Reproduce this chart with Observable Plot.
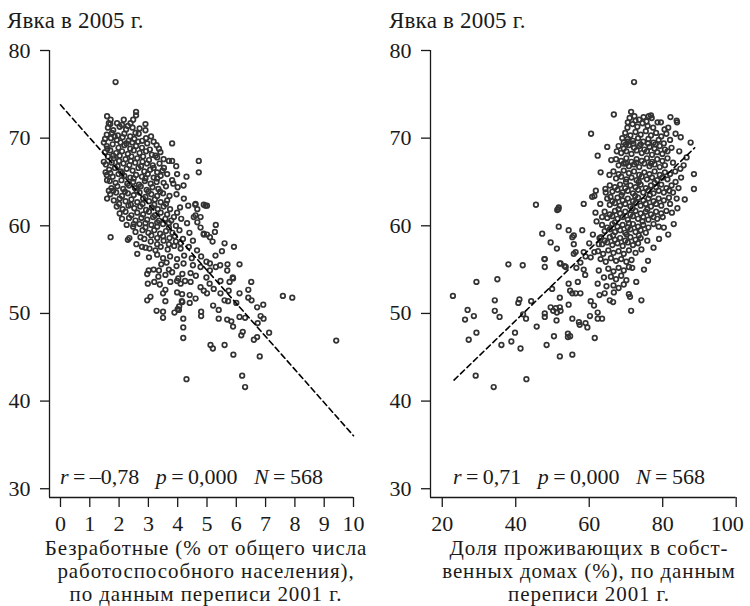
<!DOCTYPE html>
<html><head><meta charset="utf-8">
<script src="https://cdn.jsdelivr.net/npm/d3@7"></script>
<script src="https://cdn.jsdelivr.net/npm/@observablehq/plot@0.6"></script>
<style>
body{margin:0;background:#fff;}
#wrap{position:relative;width:750px;height:606px;font-family:"Liberation Serif","Times New Roman",serif;color:#1a1a1a;overflow:hidden;}
.pan{position:absolute;top:0;}
.ttl{position:absolute;font-size:23px;line-height:23px;letter-spacing:0.2px;white-space:nowrap;}
.xl{position:absolute;width:375px;text-align:center;font-size:21px;line-height:23px;letter-spacing:0.9px;white-space:nowrap;}
.st{position:absolute;font-size:22px;line-height:22px;white-space:nowrap;}
</style></head><body>
<div id="wrap"></div>
<script>
const yTitle = "Явка в 2005 г.";
const xTitleA = ["Безработные (% от общего числа", "работоспособного населения),", "по данным переписи 2001 г."];
const xTitleB = ["Доля проживающих в собст-", "венных домах (%), по данным", "переписи 2001 г."];
const yTicks = [30, 40, 50, 60, 70, 80];
const xTicksA = [0,1,2,3,4,5,6,7,8,9,10];
const xTicksB = [20,40,60,80,100];
const statsA = {r: "–0,78", p: "0,000", N: "568"};
const statsB = {r: "0,71", p: "0,000", N: "568"};
const fitA = [[0, 73.8], [10, 36.05]];
const fitB = [[23.2, 42.4], [88.7, 68.9]];

// Unemployment (%) vs turnout (%)
const pointsA = [
[1.88,76.4],[1.59,72.5],[1.71,72.1],[1.65,71.7],[1.93,71.7],[2.16,72.1],[2.39,71.7],[2.48,72.1],[2.58,73.0],[2.58,72.6],
[2.90,71.6],[2.90,70.9],[2.67,70.5],[2.79,69.7],[2.96,69.4],[3.09,70.2],[3.81,69.4],[3.36,68.8],[3.41,68.4],[3.24,68.0],
[3.70,67.4],[3.81,67.4],[4.72,67.4],[4.72,66.1],[3.18,66.6],[3.53,66.6],[3.64,65.9],[3.81,65.2],[4.00,64.4],[3.85,64.8],
[4.21,63.1],[4.61,62.5],[4.95,62.3],[4.67,61.9],[4.55,61.0],[4.67,60.4],[4.78,59.8],[4.89,59.0],[5.00,59.0],[3.98,61.5],
[3.87,61.0],[1.48,69.5],[1.48,67.3],[1.54,66.1],[1.59,65.2],[1.65,64.0],[1.59,63.1],[1.71,58.7],[2.73,58.7],[2.35,58.6],
[2.30,58.4],[2.59,57.9],[2.62,56.8],[2.90,57.5],[3.24,57.2],[3.50,56.3],[3.01,54.9],[3.18,55.0],[3.36,54.9],[2.96,54.5],
[3.70,55.0],[3.81,54.7],[2.98,53.4],[3.20,53.6],[3.39,53.3],[3.58,52.7],[3.50,52.3],[3.07,51.9],[2.96,51.5],[3.58,51.4],
[3.28,50.3],[3.50,50.2],[3.50,49.5],[3.89,50.1],[4.04,50.4],[4.19,49.4],[4.19,48.4],[4.19,47.2],[4.30,42.5],[3.98,53.7],
[3.75,53.6],[4.10,53.4],[4.25,53.7],[3.98,52.4],[4.15,52.2],[4.16,51.3],[4.05,50.8],
[7.59,52.0],[7.91,51.8],[9.41,46.9],[6.20,42.9],[6.30,41.6],[5.90,45.3],[6.80,45.1],[5.12,46.4],[5.20,46.0],[5.60,46.4],
[7.12,47.8],[6.60,47.0],[6.71,47.3],[6.17,47.5],[6.22,47.9],[6.92,51.0],[6.71,50.7],[6.83,49.7],[6.93,49.4],[6.73,48.9],
[6.51,53.6],[6.41,52.7],[6.41,51.8],[6.52,51.5],[6.11,52.3],[6.11,55.6],[5.92,57.6],[5.60,58.0],[5.51,57.1],[5.30,60.1],
[5.70,55.6],[5.89,54.0],[6.00,51.2],[6.11,49.6],[6.30,49.5],[5.83,49.1],[5.89,48.5],[5.69,49.3],[5.40,49.4],[5.40,50.4],
[5.21,50.9],[4.80,49.7],[4.80,50.2],[4.00,50.5],[4.14,51.4],[4.41,51.2],[4.61,51.7],[4.41,52.1],[4.89,52.6],[5.00,52.3],
[4.78,53.0],[5.46,52.3],[5.60,51.5],[5.72,51.4],[5.74,52.6],[5.46,53.7],[5.77,53.6],[5.88,54.1],[5.69,54.9],[5.23,52.8],
[5.09,53.4],[4.44,53.6],[4.16,54.5],[4.44,54.6],[4.78,55.3],[5.10,55.7],[5.10,54.9],[5.30,55.3],[5.45,55.5],[5.29,56.6],
[4.89,59.1],[5.19,58.2],[5.10,58.7],[5.27,59.3],[4.89,62.4],[5.00,62.3],[4.60,62.4],[4.61,61.2],[4.78,61.0],
[1.62,71.2],[1.80,70.9],[2.02,71.3],[2.24,71.0],[2.46,71.2],[2.70,71.1],
[1.58,70.4],[1.76,70.6],[1.96,70.3],[2.18,70.5],[2.38,70.2],[2.56,70.6],
[1.52,69.9],[1.72,70.0],[1.92,69.8],[2.12,70.1],[2.32,69.7],[2.52,69.9],[2.92,70.0],[3.18,69.6],
[1.58,69.1],[1.78,69.3],[1.98,68.9],[2.18,69.2],[2.38,68.8],[2.58,69.1],[2.78,68.9],[3.05,68.7],[3.28,69.2],
[1.52,68.4],[1.70,68.6],[1.90,68.3],[2.10,68.5],[2.30,68.2],[2.50,68.6],[2.70,68.3],[2.92,68.5],[3.12,68.1],
[1.62,67.9],[1.82,67.7],[2.02,68.0],[2.22,67.6],[2.42,67.9],[2.62,67.7],[2.82,67.9],[3.02,67.5],[3.30,67.8],[3.52,67.6],
[1.55,67.0],[1.75,67.2],[1.95,66.8],[2.15,67.1],[2.35,66.9],[2.55,67.2],[2.75,66.8],[2.95,67.1],[3.15,66.9],[3.38,67.1],[3.95,66.8],
[1.66,66.4],[1.86,66.6],[2.06,66.2],[2.26,66.5],[2.46,66.3],[2.66,66.6],[2.86,66.2],[3.06,66.4],[3.30,66.1],[3.48,66.3],
[1.58,65.8],[1.78,65.6],[1.98,65.9],[2.18,65.7],[2.38,65.5],[2.58,65.8],[2.78,65.6],[2.98,65.9],[3.18,65.5],[3.42,65.7],[3.98,65.9],[4.30,65.6],
[1.68,65.1],[1.88,64.9],[2.08,65.2],[2.28,64.8],[2.48,65.0],[2.68,64.7],[2.88,65.1],[3.08,64.8],[3.28,65.0],[3.52,64.9],
[1.74,64.3],[1.94,64.5],[2.14,64.2],[2.34,64.6],[2.54,64.3],[2.74,64.5],[2.94,64.1],[3.14,64.4],[3.34,64.2],[3.60,64.5],[4.20,64.6],
[1.70,63.6],[1.90,63.8],[2.10,63.4],[2.30,63.7],[2.50,63.5],[2.70,63.8],[2.90,63.3],[3.10,63.6],[3.30,63.4],[3.50,63.7],[3.72,63.4],[3.96,63.6],
[1.82,62.9],[2.02,63.1],[2.22,62.8],[2.42,63.0],[2.62,62.7],[2.82,63.1],[3.02,62.8],[3.22,63.0],[3.42,62.7],[3.64,62.9],
[1.92,62.2],[2.12,61.9],[2.32,62.3],[2.52,62.0],[2.72,62.2],[2.92,61.8],[3.12,62.1],[3.32,61.9],[3.52,62.2],[3.74,61.9],[4.08,62.1],[4.36,62.3],
[2.02,61.4],[2.22,61.6],[2.42,61.2],[2.62,61.5],[2.82,61.3],[3.02,61.6],[3.22,61.2],[3.42,61.5],[3.64,61.3],
[2.10,60.8],[2.34,60.9],[2.56,60.6],[2.76,60.9],[2.96,60.7],[3.16,61.0],[3.36,60.6],[3.58,60.8],[3.78,60.6],[4.12,60.8],[4.32,60.3],
[2.26,60.1],[2.48,59.9],[2.70,60.2],[2.90,59.8],[3.10,60.1],[3.30,59.9],[3.50,60.2],[3.70,59.8],[3.94,60.0],
[2.56,59.3],[2.80,59.5],[3.00,59.2],[3.20,59.5],[3.40,59.1],[3.60,59.4],[3.82,59.2],[4.06,59.5],[4.40,59.2],
[2.86,58.5],[3.08,58.2],[3.30,58.6],[3.52,58.3],[3.72,58.6],[3.94,58.2],[4.18,58.5],[4.52,58.3],
[2.78,57.6],[3.04,57.4],[3.42,57.6],[3.66,57.3],[3.88,57.7],[4.10,57.4],[4.38,57.6],[4.66,57.2],
[3.02,56.4],[3.30,56.7],[3.74,56.5],[3.98,56.2],[4.22,56.6],[4.48,56.3],[4.80,56.5],
[3.44,55.6],[3.62,55.8],[3.96,55.4],[4.20,55.7],[4.52,55.5],[4.98,55.9],
[3.34,54.2],[3.58,54.4],[4.02,54.0],[4.62,54.3],[4.98,54.1],
[1.70,71.6],[2.10,71.5],[2.30,71.4],[1.85,70.2],[2.05,69.5],[2.25,69.4],[2.45,69.5],[2.65,69.6],[1.60,68.8],[1.80,68.0],
[2.00,67.4],[2.40,67.4],[2.80,67.3],[1.70,66.0],[2.10,66.0],[2.50,65.4],[2.90,65.4],[3.30,65.4],[1.80,64.0],[2.20,63.9],
[2.60,64.0],[3.00,63.9],[3.40,63.9],[2.00,62.5],[2.40,62.4],[2.80,62.5],[3.20,62.4],[3.60,62.5],[2.50,60.2],[2.90,60.3],
[3.30,60.4],[3.70,60.3],[3.10,58.9],[3.50,58.8],[3.90,58.8],[3.30,57.9],[3.70,57.9],[4.10,58.0]
];

// Share living in own homes (%) vs turnout (%)
const pointsB = [
[72.2,76.4],[66.7,72.7],[71.4,73.0],[70.5,71.8],[72.6,72.0],[76.2,72.5],[76.8,72.6],[82.1,72.4],[83.8,72.0],[83.9,71.8],
[60.5,70.5],[64.9,69.0],[62.3,68.0],[63.1,66.1],[69.4,69.5],[70.6,69.6],[87.6,69.5],[84.9,70.1],[83.5,70.5],[85.7,66.9],
[88.5,65.9],[88.5,64.2],[83.8,63.1],[84.3,64.3],[80.3,59.8],[58.5,62.5],[51.7,62.1],[51.3,61.8],[51.7,59.9],[47.2,59.1],
[49.5,58.1],[51.2,57.4],[54.4,59.5],[55.8,58.9],[58.1,59.5],[61.4,63.4],[61.8,64.0],[64.4,64.2],[65.8,63.3],
[22.9,52.0],[29.3,53.6],[35.0,53.9],[38.0,55.6],[41.9,55.5],[45.5,62.4],[51.6,61.9],[47.9,56.2],[47.9,55.3],[52.0,55.7],
[53.3,55.4],[49.9,52.8],[52.0,51.8],[52.0,50.7],[49.5,50.7],[50.9,50.6],[50.2,50.3],[47.9,50.0],[47.9,49.6],[51.1,49.2],
[45.7,48.5],[50.4,47.4],[48.4,46.4],[52.0,45.1],[54.2,47.7],[54.2,47.3],[42.8,49.4],[42.0,49.9],[40.7,51.2],[41.0,51.6],
[44.2,51.4],[34.3,51.5],[34.3,50.3],[35.6,49.6],[28.6,49.7],[26.9,50.4],[26.2,49.3],[29.3,47.8],[27.2,47.0],[39.8,47.8],
[38.8,46.8],[36.1,46.4],[41.3,46.0],[29.1,42.9],[34.0,41.6],[42.9,42.5],
[55.8,56.8],[56.5,55.2],[58.5,55.0],[58.9,54.4],[62.6,54.9],[54.4,53.4],[56.9,53.6],[54.8,52.6],[55.4,52.3],[56.3,52.3],
[57.6,52.3],[54.4,51.0],[51.2,50.1],[52.2,50.3],[55.4,49.4],[57.2,49.0],[57.4,48.7],[59.0,48.9],[59.5,48.4],[60.2,49.7],
[62.3,50.1],[63.5,49.4],[62.3,49.4],[54.8,47.4],[55.4,45.3],[61.5,47.2],[60.4,51.4],[61.3,50.9],[62.8,52.1],[64.2,52.3],
[64.0,54.1],[62.3,53.4],[64.7,53.1],[65.6,51.5],[66.5,51.3],[66.7,52.4],[71.1,51.9],[71.4,50.3],[74.2,51.5],[72.8,53.6],
[74.9,55.0],[71.7,55.2],[70.8,52.2],[60.8,63.3],[61.7,61.5],[63.5,61.0],[55.8,57.9],[56.3,57.0],[55.4,58.7],[58.5,57.0],
[60.4,56.4],[61.4,57.0],[62.6,57.9],[63.2,58.7],[57.6,55.8],[53.6,55.3],[47.8,56.2],[52.2,55.7],
[71.0,72.3],[72.3,72.5],[73.6,72.1],[74.8,72.4],[75.6,71.9],
[70.4,71.2],[71.8,71.6],[73.1,71.3],[74.5,71.7],[75.9,71.4],[77.4,71.2],[78.6,71.8],
[69.8,70.6],[71.2,70.3],[72.6,70.7],[74.0,70.4],[75.4,70.8],[76.8,70.3],[78.2,70.6],[79.6,70.2],[81.0,70.5],
[70.5,69.9],[71.9,69.7],[73.3,70.0],[74.7,69.6],[76.1,69.9],[77.5,69.5],[78.9,69.8],[80.3,69.4],[82.0,69.8],
[68.0,69.1],[69.4,68.8],[70.8,69.2],[72.2,68.9],[73.6,69.1],[75.0,68.7],[76.4,69.0],[77.8,68.8],[79.2,69.1],[80.6,68.7],[82.4,68.9],
[68.7,68.3],[70.1,68.5],[71.5,68.2],[72.9,68.6],[74.3,68.3],[75.7,68.5],[77.1,68.1],[78.5,68.4],[79.9,68.2],[81.3,68.5],
[67.3,67.6],[68.7,67.4],[70.1,67.7],[71.5,67.3],[72.9,67.6],[74.3,67.4],[75.7,67.7],[77.1,67.3],[78.5,67.6],[79.9,67.4],[81.3,67.7],[82.8,67.2],
[68.0,66.9],[69.4,67.1],[70.8,66.8],[72.2,67.0],[73.6,66.7],[75.0,67.1],[76.4,66.8],[77.8,67.0],[79.2,66.7],[80.6,66.9],
[66.6,66.2],[68.0,65.9],[69.4,66.3],[70.8,66.0],[72.2,66.2],[73.6,65.8],[75.0,66.1],[76.4,65.9],[77.8,66.2],[79.2,65.8],[80.6,66.1],[82.0,65.9],[83.4,66.2],
[67.3,65.4],[68.7,65.6],[70.1,65.3],[71.5,65.5],[72.9,65.2],[74.3,65.6],[75.7,65.3],[77.1,65.5],[78.5,65.2],[79.9,65.5],[81.3,65.3],
[65.6,64.6],[67.0,64.4],[68.4,64.7],[69.8,64.3],[71.2,64.6],[72.6,64.4],[74.0,64.7],[75.4,64.3],[76.8,64.6],[78.2,64.4],[79.6,64.7],[81.0,64.3],[82.4,64.6],
[66.3,63.9],[67.7,64.1],[69.1,63.8],[70.5,64.0],[71.9,63.7],[73.3,64.1],[74.7,63.8],[76.1,64.0],[77.5,63.7],[78.9,64.0],[80.3,63.8],
[64.9,63.1],[66.3,62.8],[67.7,63.2],[69.1,62.9],[70.5,63.1],[71.9,62.8],[73.3,63.2],[74.7,62.9],[76.1,63.1],[77.5,62.8],[78.9,63.1],[80.3,62.9],[81.7,63.2],
[65.6,62.4],[67.0,62.6],[68.4,62.3],[69.8,62.5],[71.2,62.2],[72.6,62.6],[74.0,62.3],[75.4,62.5],[76.8,62.2],[78.2,62.5],[79.6,62.3],
[64.2,61.6],[65.6,61.3],[67.0,61.7],[68.4,61.4],[69.8,61.6],[71.2,61.3],[72.6,61.7],[74.0,61.4],[75.4,61.6],[76.8,61.3],[78.2,61.6],[79.6,61.4],[81.0,61.7],
[64.9,60.9],[66.3,61.1],[67.7,60.8],[69.1,61.0],[70.5,60.7],[71.9,61.1],[73.3,60.8],[74.7,61.0],[76.1,60.7],[77.5,61.0],
[63.5,60.1],[64.9,59.8],[66.3,60.2],[67.7,59.9],[69.1,60.1],[70.5,59.8],[71.9,60.2],[73.3,59.9],[74.7,60.1],[76.1,59.8],[77.5,60.2],[78.9,59.9],
[64.2,59.4],[65.6,59.6],[67.0,59.3],[68.4,59.5],[69.8,59.2],[71.2,59.6],[72.6,59.3],[74.0,59.5],[75.4,59.2],
[62.8,58.6],[64.2,58.3],[65.6,58.7],[67.0,58.4],[68.4,58.6],[69.8,58.3],[71.2,58.7],[72.6,58.4],[74.0,58.6],[75.8,58.3],
[63.5,57.9],[64.9,58.1],[66.3,57.8],[67.7,58.0],[69.1,57.7],[70.5,58.1],[71.9,57.8],[73.3,58.0],
[62.4,57.1],[63.8,56.8],[65.2,57.2],[66.6,56.9],[68.0,57.1],[69.4,56.8],[70.8,57.2],[72.6,56.9],[74.2,57.3],
[63.1,56.2],[64.5,55.9],[65.9,56.3],[67.3,56.0],[68.7,56.2],[70.1,55.9],[71.5,56.1],
[65.2,55.1],[66.6,54.8],[68.0,55.2],[69.4,54.9],[70.8,55.3],
[65.9,54.2],[67.3,53.9],[68.7,54.3],[70.1,53.8],
[66.6,53.2],[68.0,52.9],[69.4,53.3],
[82.5,61.5],[84.0,62.0],[83.0,60.2],[85.0,65.5],[86.5,67.8],[84.5,68.5],[86.0,63.0],[81.5,59.0],[79.0,58.5],[77.5,57.5],
[76.0,56.0],[78.5,60.8],[80.0,61.0],[82.0,62.5],[83.5,65.0],[84.8,66.5],[81.8,64.0],[82.8,63.8],[80.5,71.0],[79.5,71.8],
[81.5,71.2],[77.0,72.3],[69.0,70.0],[67.5,68.5],[66.0,67.5],[65.5,65.8],[64.5,63.8],[63.0,62.5],[62.0,60.5],[61.0,59.0],
[60.0,58.0],[59.0,56.5],[70.0,69.3],[72.0,69.4],[74.0,69.3],[76.0,69.4],[78.0,69.3],[70.0,67.1],[72.8,67.2],[76.8,67.1],
[70.0,65.0],[73.5,65.0],[77.8,64.9],[68.8,63.5],[72.5,63.4],[76.5,63.5],[68.0,61.9],[71.8,62.0],[75.8,61.9],[67.0,60.4],
[70.8,60.3],[74.5,60.5],[66.5,58.9],[70.2,59.0],[73.5,58.9]
];

const wrap = document.getElementById("wrap");
const Y0 = 29, Y1 = 80;
const serif = "'Liberation Serif', 'Times New Roman', serif";

function panel(points, fit, xDomain, xTicks, mLeft, mRight, shiftLast) {
  const main = shiftLast ? xTicks.slice(0, -1) : xTicks;
  const marks = [
    Plot.axisX({ticks: xTicks, tickSize: 10, text: null, strokeWidth: 1.3}),
    Plot.axisX({ticks: main, tickSize: 0, tickPadding: 18, label: null, tickFormat: d => String(d)}),
    Plot.axisY({ticks: yTicks, tickSize: 9, tickPadding: 10, label: null, tickFormat: d => String(d), strokeWidth: 1.3}),
    Plot.ruleX([xDomain[0]], {y1: Y0, y2: Y1, stroke: "#1a1a1a", strokeWidth: 1.3}),
    Plot.ruleY([Y0], {x1: xDomain[0], x2: xDomain[1], stroke: "#1a1a1a", strokeWidth: 1.3}),
    Plot.dot(points, {x: d => d[0], y: d => d[1], r: 2.3, stroke: "#333", strokeWidth: 1.7, fill: "none"}),
    Plot.line(fit, {x: d => d[0], y: d => d[1], stroke: "#000", strokeWidth: 1.6, strokeDasharray: "5.5,3.5"})
  ];
  if (shiftLast) marks.push(Plot.axisX({ticks: xTicks.slice(-1), tickSize: 0, tickPadding: 18, dx: -9, label: null, tickFormat: d => String(d)}));
  return Plot.plot({
    width: 375, height: 606,
    marginLeft: mLeft, marginRight: mRight, marginTop: 50, marginBottom: 109,
    x: {domain: xDomain},
    y: {domain: [Y0, Y1]},
    style: {fontFamily: serif, fontSize: "22px", color: "#1a1a1a", background: "white", overflow: "visible"},
    marks
  });
}

function place(el, left) {
  const d = document.createElement("div");
  d.className = "pan"; d.style.left = left + "px";
  d.appendChild(el); wrap.appendChild(d);
}
place(panel(pointsA, fitA, [-0.375, 10], xTicksA, 49, 22, false), 0);
place(panel(pointsB, fitB, [16.8, 100], xTicksB, 55, 14.3, true), 375);

function addText(cls, left, top, html) {
  const d = document.createElement("div");
  d.className = cls; d.style.left = left + "px"; d.style.top = top + "px";
  d.innerHTML = html; wrap.appendChild(d);
}
addText("ttl", 7, 9, yTitle);
addText("ttl", 389, 9, yTitle);
addText("xl", 18.5, 536.5, xTitleA.join("<br>"));
addText("xl", 401.5, 536.5, xTitleB.join("<br>"));
const fmtStats = s => `<i>r</i>\u2009=\u2009${s.r}&nbsp;&nbsp; <i>p</i>\u2009=\u2009${s.p}&nbsp;&nbsp; <i>N</i>\u2009=\u2009${s.N}`;
addText("st", 60, 466, fmtStats(statsA));
addText("st", 453, 466, fmtStats(statsB));
</script>
</body></html>
